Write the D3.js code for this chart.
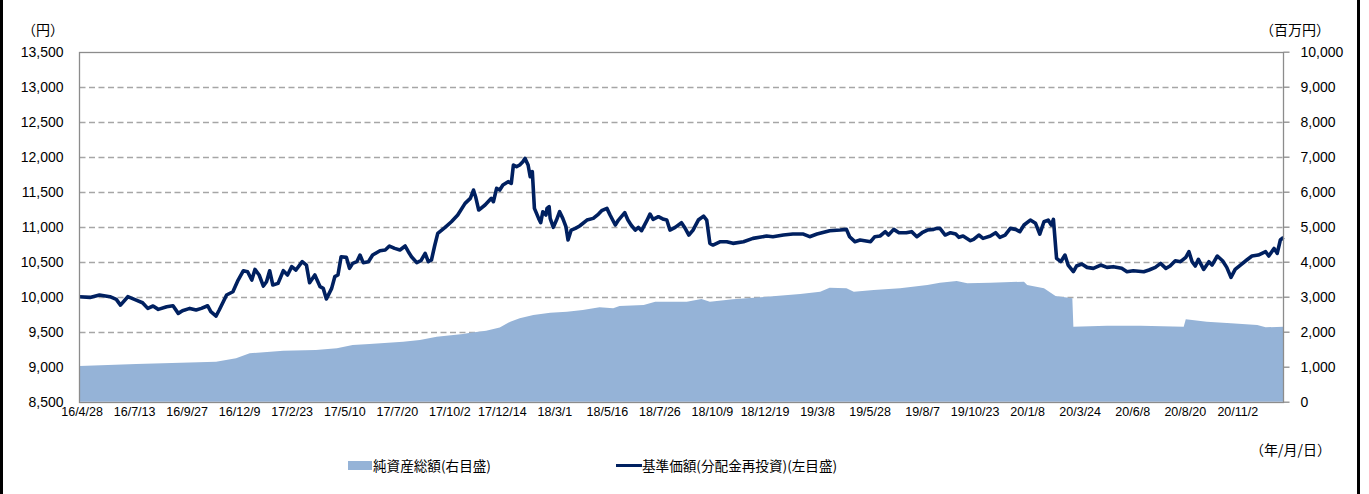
<!DOCTYPE html>
<html>
<head>
<meta charset="utf-8">
<script src="https://cdn.jsdelivr.net/npm/d3@7"></script>
<style>
  body { margin: 0; background: #fff; }
  svg text { font-family: "Liberation Sans", "Noto Sans CJK JP", sans-serif; fill: #000; }
  svg text.jp { font-family: "Noto Sans CJK JP", sans-serif; }
</style>
</head>
<body>
<div id="chart"></div>
<script>
// trading-day index -> x axis labels
const tickDays = [2, 52, 102, 152, 202, 252, 302, 352, 402, 452, 502, 552, 602, 652, 702, 752, 802, 852, 902, 952, 1002, 1052, 1102];
const tickLabels = ["16/4/28", "16/7/13", "16/9/27", "16/12/9", "17/2/23", "17/5/10", "17/7/20", "17/10/2", "17/12/14", "18/3/1", "18/5/16", "18/7/26", "18/10/9", "18/12/19", "19/3/8", "19/5/28", "19/8/7", "19/10/23", "20/1/8", "20/3/24", "20/6/8", "20/8/20", "20/11/2"];

// 基準価額 (左目盛, 円)
const navDays = [0, 10, 19, 29, 35, 39, 46, 54, 60, 65, 70, 75, 83, 89, 94, 98, 105, 111, 116, 122, 125, 130, 133, 140, 146, 151, 156, 160, 164, 167, 171, 175, 178, 181, 184, 189, 194, 198, 202, 206, 212, 216, 219, 224, 229, 232, 235, 240, 243, 246, 249, 254, 257, 260, 264, 267, 270, 275, 279, 286, 291, 295, 300, 305, 310, 313, 316, 321, 325, 329, 332, 335, 338, 341, 348, 354, 360, 367, 372, 375, 377, 380, 386, 392, 394, 397, 400, 403, 408, 411, 413, 416, 419, 422, 424, 427, 429, 431, 433, 437, 439, 441, 444, 445, 447, 448, 451, 454, 457, 460, 463, 465, 468, 472, 476, 483, 489, 494, 497, 502, 505, 510, 513, 519, 522, 525, 529, 532, 535, 540, 543, 546, 551, 556, 559, 562, 567, 573, 576, 580, 584, 589, 594, 597, 600, 603, 610, 616, 622, 632, 641, 654, 660, 670, 679, 689, 695, 702, 714, 724, 730, 733, 738, 743, 753, 757, 762, 767, 770, 775, 780, 787, 792, 797, 802, 807, 813, 816, 819, 824, 829, 834, 837, 841, 848, 851, 856, 860, 867, 872, 876, 881, 886, 891, 895, 899, 905, 910, 914, 918, 922, 925, 927, 930, 934, 938, 941, 946, 949, 954, 959, 965, 972, 978, 984, 992, 997, 1003, 1013, 1018, 1024, 1029, 1034, 1038, 1043, 1048, 1053, 1056, 1059, 1062, 1065, 1070, 1075, 1078, 1083, 1088, 1092, 1096, 1100, 1105, 1111, 1116, 1122, 1129, 1132, 1137, 1140, 1143, 1146];
const navValues = [10000, 9990, 10025, 10000, 9962, 9880, 10000, 9952, 9914, 9833, 9867, 9819, 9857, 9871, 9762, 9800, 9833, 9810, 9833, 9871, 9786, 9724, 9810, 10024, 10071, 10238, 10371, 10357, 10238, 10390, 10310, 10152, 10214, 10371, 10167, 10190, 10371, 10310, 10429, 10381, 10500, 10452, 10200, 10310, 10143, 10119, 9967, 10119, 10286, 10310, 10571, 10562, 10405, 10476, 10500, 10595, 10486, 10500, 10595, 10657, 10667, 10724, 10690, 10667, 10724, 10643, 10571, 10486, 10514, 10619, 10500, 10524, 10724, 10905, 10990, 11071, 11167, 11333, 11405, 11524, 11429, 11238, 11310, 11405, 11357, 11548, 11524, 11595, 11643, 11619, 11881, 11857, 11881, 11929, 11976, 11881, 11714, 11786, 11262, 11119, 11057, 11214, 11167, 11262, 11286, 11119, 10990, 11095, 11214, 11119, 11000, 10810, 10952, 10976, 11010, 11095, 11119, 11181, 11229, 11262, 11167, 11024, 11095, 11200, 11095, 11024, 10952, 10990, 10943, 11086, 11181, 11105, 11143, 11105, 11095, 10952, 10990, 11057, 10990, 10881, 10952, 11095, 11152, 11095, 10762, 10738, 10786, 10786, 10762, 10786, 10833, 10867, 10857, 10881, 10895, 10895, 10857, 10895, 10943, 10952, 10962, 10857, 10786, 10810, 10786, 10857, 10867, 10929, 10881, 10962, 10914, 10914, 10929, 10857, 10914, 10952, 10962, 10976, 10976, 10881, 10914, 10895, 10848, 10867, 10800, 10819, 10881, 10833, 10867, 10914, 10848, 10881, 10976, 10962, 10929, 11024, 11095, 11048, 10895, 11071, 11095, 11024, 11105, 10548, 10500, 10595, 10452, 10357, 10438, 10467, 10419, 10405, 10452, 10419, 10429, 10405, 10357, 10371, 10357, 10381, 10419, 10476, 10405, 10438, 10514, 10500, 10562, 10643, 10500, 10438, 10533, 10390, 10500, 10452, 10581, 10514, 10419, 10276, 10390, 10452, 10524, 10581, 10595, 10643, 10581, 10690, 10619, 10810, 10848];

// 純資産総額 (右目盛, 百万円)
const assetDays = [0, 54, 130, 149, 162, 194, 225, 245, 260, 276, 308, 324, 340, 365, 372, 387, 400, 410, 419, 432, 448, 464, 479, 495, 508, 514, 537, 548, 578, 592, 600, 622, 654, 686, 705, 714, 730, 737, 756, 781, 807, 819, 835, 845, 867, 899, 902, 918, 929, 945, 946, 978, 1010, 1051, 1053, 1073, 1096, 1121, 1129, 1146];
const assetValues = [1020, 1077, 1143, 1240, 1383, 1457, 1477, 1525, 1620, 1648, 1714, 1763, 1857, 1934, 1970, 2029, 2120, 2286, 2382, 2477, 2543, 2572, 2620, 2696, 2667, 2734, 2762, 2857, 2857, 2934, 2857, 2924, 3000, 3076, 3143, 3257, 3238, 3143, 3190, 3238, 3334, 3400, 3448, 3381, 3400, 3429, 3334, 3240, 3020, 2954, 2143, 2171, 2171, 2143, 2354, 2286, 2240, 2191, 2124, 2143];

const leftTicks = [8500, 9000, 9500, 10000, 10500, 11000, 11500, 12000, 12500, 13000, 13500];
const rightTicks = [0, 1000, 2000, 3000, 4000, 5000, 6000, 7000, 8000, 9000, 10000];

const W = 1369, H = 494;
const plot = { left: 79.5, right: 1283.5, top: 51.7, bottom: 401.7 };

const svg = d3.select("#chart").append("svg")
  .attr("width", W).attr("height", H);

const x = d3.scaleLinear().domain([0, 1146]).range([plot.left, plot.right]);
const yL = d3.scaleLinear().domain([8500, 13500]).range([plot.bottom, plot.top]);
const yR = d3.scaleLinear().domain([0, 10000]).range([plot.bottom, plot.top]);

// outer frame (left / right)
svg.append("line").attr("x1", 1.5).attr("x2", 1.5).attr("y1", 0).attr("y2", H)
  .attr("stroke", "#000").attr("stroke-width", 3);
svg.append("line").attr("x1", 1358.5).attr("x2", 1358.5).attr("y1", 0).attr("y2", H)
  .attr("stroke", "#000").attr("stroke-width", 3);

// gridlines
svg.append("g").selectAll("line")
  .data(leftTicks.slice(1, -1))
  .join("line")
  .attr("x1", plot.left).attr("x2", plot.right)
  .attr("y1", d => Math.round(yL(d)) + 0.5).attr("y2", d => Math.round(yL(d)) + 0.5)
  .attr("stroke", "#a6a6a6").attr("stroke-width", 1.3)
  .attr("stroke-dasharray", "6,3.5");

// 純資産総額 area
const assets = assetDays.map((d, i) => ({ d, v: assetValues[i] }));
svg.append("path")
  .datum(assets)
  .attr("fill", "#95b3d7")
  .attr("d", d3.area().x(p => x(p.d)).y0(yR(0)).y1(p => yR(p.v)));

// 基準価額 line
const nav = navDays.map((d, i) => ({ d, v: navValues[i] }));
svg.append("path")
  .datum(nav)
  .attr("fill", "none")
  .attr("stroke", "#002060")
  .attr("stroke-width", 3.6)
  .attr("stroke-linejoin", "round")
  .attr("d", d3.line().x(p => x(p.d)).y(p => yL(p.v)));

// plot border
svg.append("rect")
  .attr("x", plot.left).attr("y", Math.round(plot.top) + 0.5)
  .attr("width", plot.right - plot.left).attr("height", Math.round(plot.bottom) - Math.round(plot.top))
  .attr("fill", "none").attr("stroke", "#8c8c8c").attr("stroke-width", 1.3);

// left axis
const gl = svg.append("g")
  .attr("transform", `translate(${plot.left},0)`)
  .call(d3.axisLeft(yL).tickValues(leftTicks).tickSize(0).tickPadding(16).tickFormat(d3.format(",")));
gl.select(".domain").remove();
gl.selectAll("text").style("font-size", "14px");

// right axis
const gr = svg.append("g")
  .attr("transform", `translate(${plot.right},0)`)
  .call(d3.axisRight(yR).tickValues(rightTicks).tickSize(6).tickPadding(11).tickFormat(d3.format(",")));
gr.select(".domain").remove();
gr.selectAll("line").attr("stroke", "#8c8c8c").attr("stroke-width", 1.3);
gr.selectAll("text").style("font-size", "14px");

// x axis labels
const gx = svg.append("g")
  .attr("transform", `translate(0,${plot.bottom})`)
  .call(d3.axisBottom(x).tickValues(tickDays).tickSize(0).tickPadding(5)
    .tickFormat((d, i) => tickLabels[i]));
gx.select(".domain").remove();
gx.selectAll("text").style("font-size", "12.5px");

// unit labels
svg.append("text").attr("class", "jp").attr("x", 22).attr("y", 35)
  .style("font-size", "14px").text("（円）");
svg.append("text").attr("class", "jp").attr("x", 1260).attr("y", 35)
  .style("font-size", "14px").text("（百万円）");
svg.append("text").attr("class", "jp").attr("x", 1250).attr("y", 455)
  .style("font-size", "14px").text("（年/月/日）");

// legend
const lg = svg.append("g");
lg.append("rect").attr("x", 348).attr("y", 461).attr("width", 24).attr("height", 9)
  .attr("fill", "#95b3d7");
lg.append("text").attr("class", "jp").attr("x", 373).attr("y", 470.5)
  .style("font-size", "13.6px").text("純資産総額(右目盛)");
lg.append("line").attr("x1", 616).attr("x2", 642).attr("y1", 465.5).attr("y2", 465.5)
  .attr("stroke", "#002060").attr("stroke-width", 3);
lg.append("text").attr("class", "jp").attr("x", 642).attr("y", 470.5)
  .style("font-size", "13.6px").text("基準価額(分配金再投資)(左目盛)");
</script>
</body>
</html>
